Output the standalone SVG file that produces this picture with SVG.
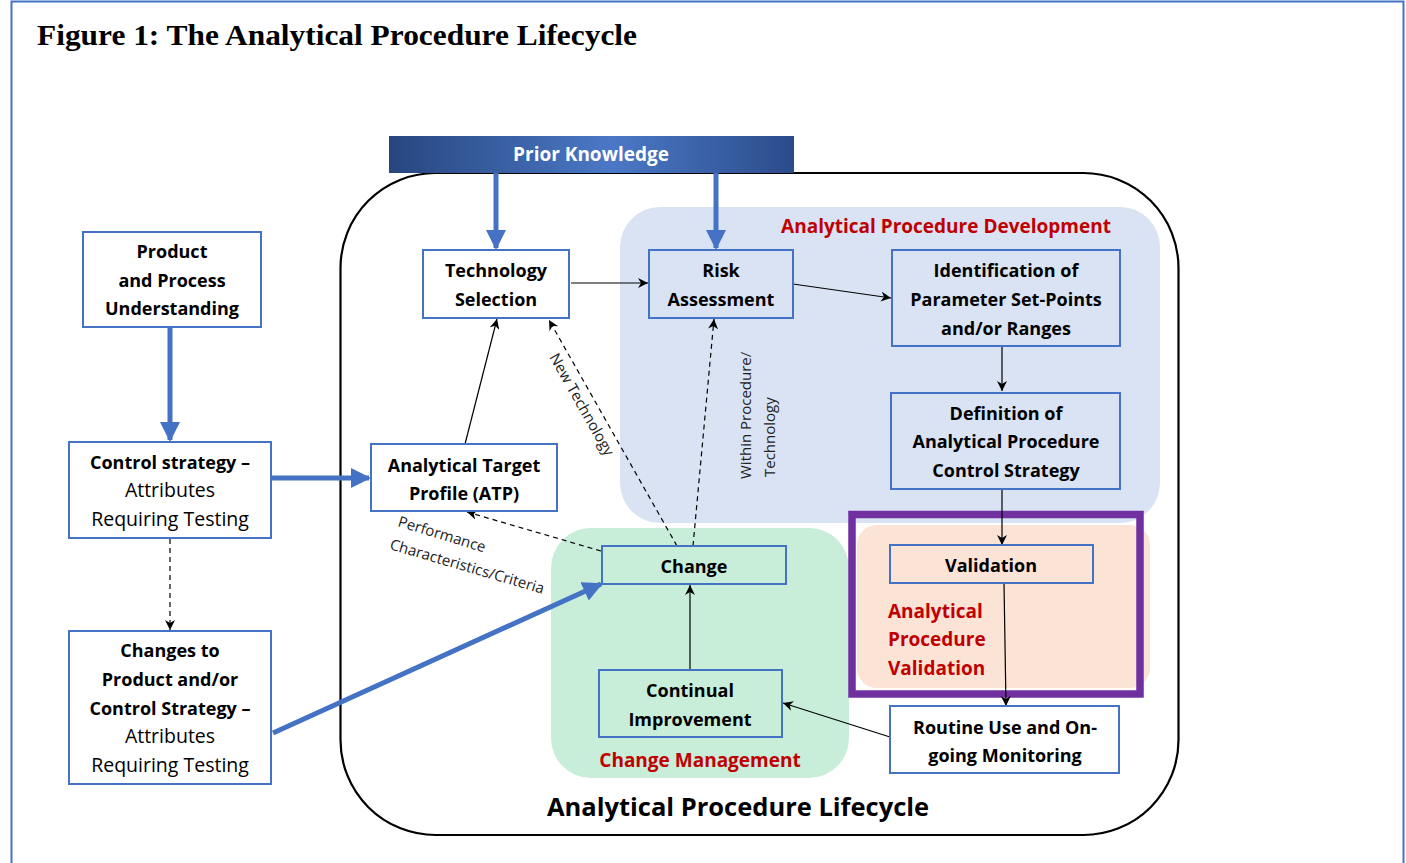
<svg xmlns="http://www.w3.org/2000/svg" width="1406" height="863" viewBox="0 0 1406 863">
  <style>
    .node { fill: #ffffff; stroke: #4472c4; stroke-width: 2; }
    .clear { fill: none; stroke: #4472c4; stroke-width: 2; }
    .t { font-family: "Open Sans", "Liberation Sans", sans-serif; font-size: 18px; fill: #000000; text-anchor: middle; }
    .b { font-weight: 700; }
    .n { font-weight: 400; font-size: 19.5px; }
    .red { font-family: "Open Sans", "Liberation Sans", sans-serif; font-size: 19px; font-weight: 700; fill: #c00000; }
    .lbl { font-family: "Open Sans", "Liberation Sans", sans-serif; font-size: 15px; fill: #222222; }
    .thin { stroke: #000000; stroke-width: 1.2; fill: none; marker-end: url(#head); }
    .dash { stroke: #000000; stroke-width: 1.2; fill: none; stroke-dasharray: 5 4; marker-end: url(#head); }
    .thick { stroke: #4472c4; stroke-width: 5; fill: none; marker-end: url(#bighead); }
  </style>
  <defs>
    <marker id="head" viewBox="0 0 10 10" refX="10" refY="5" markerWidth="10" markerHeight="10" markerUnits="userSpaceOnUse" orient="auto">
      <path d="M0,0 L10,5 L0,10 L3,5 z" fill="#000000"/>
    </marker>
    <marker id="bighead" viewBox="0 0 10 10" refX="9" refY="5" markerWidth="4" markerHeight="4" orient="auto">
      <path d="M0,0 L10,5 L0,10 z" fill="#4472c4"/>
    </marker>
    <linearGradient id="barGrad" x1="0" y1="0" x2="1" y2="0">
      <stop offset="0" stop-color="#27467f"/>
      <stop offset="0.55" stop-color="#4b78c6"/>
      <stop offset="1" stop-color="#2b4c8b"/>
    </linearGradient>
  </defs>

  <rect x="0" y="0" width="1406" height="863" fill="#ffffff"/>
  <!-- page frame -->
  <rect x="11.5" y="1.5" width="1392" height="900" fill="none" stroke="#4472c4" stroke-width="2"/>
  <text x="37" y="45" font-family="'Liberation Serif', serif" font-size="30" font-weight="700" fill="#000000" textLength="600" lengthAdjust="spacingAndGlyphs">Figure 1: The Analytical Procedure Lifecycle</text>

  <!-- lifecycle boundary -->
  <rect x="340.5" y="173" width="838" height="662" rx="95" ry="95" fill="none" stroke="#000000" stroke-width="2.2"/>

  <!-- stage regions -->
  <g id="region-development">
    <rect x="620" y="207" width="540" height="316" rx="40" ry="40" fill="#dae3f3"/>
    <text class="red" x="946" y="233" text-anchor="middle">Analytical Procedure Development</text>
  </g>
  <g id="region-change">
    <rect x="551" y="528" width="298" height="250" rx="40" ry="40" fill="#c8edd8"/>
    <text class="red" x="700" y="767" text-anchor="middle">Change Management</text>
  </g>
  <g id="region-validation">
    <rect x="857" y="525" width="293" height="163" rx="20" ry="20" fill="#fbe3d6"/>
    <text class="red" x="888" y="618">Analytical</text>
    <text class="red" x="888" y="646">Procedure</text>
    <text class="red" x="888" y="675">Validation</text>
    <rect x="852" y="514.5" width="288" height="179.5" fill="none" stroke="#7030a0" stroke-width="7.5"/>
  </g>

  <!-- prior knowledge bar -->
  <g id="prior-knowledge">
    <rect x="389" y="136" width="405" height="37" fill="url(#barGrad)"/>
    <text x="591" y="161" font-family="'Open Sans', 'Liberation Sans', sans-serif" font-size="19" font-weight="700" fill="#ffffff" text-anchor="middle">Prior Knowledge</text>
  </g>

  <!-- connectors -->
  <g id="connectors">
    <line class="thick" x1="496" y1="173" x2="496" y2="248"/>
    <line class="thick" x1="716" y1="173" x2="716" y2="248"/>
    <line class="thick" x1="170" y1="327" x2="170" y2="440"/>
    <line class="thick" x1="271" y1="478" x2="369" y2="478"/>
    <line class="thick" x1="273" y1="733" x2="601" y2="584"/>

    <line class="thin" x1="571" y1="283" x2="648" y2="283"/>
    <line class="thin" x1="793" y1="284" x2="891" y2="298"/>
    <line class="thin" x1="1002" y1="346" x2="1002" y2="391"/>
    <line class="thin" x1="1002" y1="489" x2="1002" y2="545"/>
    <line class="thin" x1="1004" y1="583" x2="1006" y2="706"/>
    <line class="thin" x1="890" y1="737" x2="783" y2="703"/>
    <line class="thin" x1="690" y1="670" x2="690" y2="585"/>
    <line class="thin" x1="465" y1="444" x2="497" y2="319"/>

    <line class="dash" x1="677" y1="546" x2="549" y2="320"/>
    <line class="dash" x1="693" y1="546" x2="714" y2="319"/>
    <line class="dash" x1="601" y1="551" x2="467" y2="512"/>
    <line class="dash" x1="170" y1="539" x2="170" y2="630"/>

    <text class="lbl" transform="translate(549,357) rotate(60.5)">New Technology</text>
    <text class="lbl" transform="translate(751,479) rotate(-90)">Within Procedure/</text>
    <text class="lbl" transform="translate(775,477) rotate(-90)">Technology</text>
    <text class="lbl" transform="translate(397,526) rotate(17)">Performance</text>
    <text class="lbl" transform="translate(389,549) rotate(16.3)">Characteristics/Criteria</text>
  </g>

  <!-- process nodes -->
  <g id="product-understanding">
    <rect class="node" x="83" y="232" width="178" height="95"/>
    <text class="t b" x="172" y="258">Product</text>
    <text class="t b" x="172" y="287">and Process</text>
    <text class="t b" x="172" y="315">Understanding</text>
  </g>
  <g id="control-strategy">
    <rect class="node" x="69" y="442" width="202" height="96"/>
    <text class="t b" x="170" y="469">Control strategy –</text>
    <text class="t n" x="170" y="497">Attributes</text>
    <text class="t n" x="170" y="526">Requiring Testing</text>
  </g>
  <g id="changes-to-product">
    <rect class="node" x="69" y="631" width="202" height="153"/>
    <text class="t b" x="170" y="657">Changes to</text>
    <text class="t b" x="170" y="686">Product and/or</text>
    <text class="t b" x="170" y="715">Control Strategy –</text>
    <text class="t n" x="170" y="743">Attributes</text>
    <text class="t n" x="170" y="772">Requiring Testing</text>
  </g>
  <g id="technology-selection">
    <rect class="node" x="423" y="250" width="146" height="68"/>
    <text class="t b" x="496" y="277">Technology</text>
    <text class="t b" x="496" y="306">Selection</text>
  </g>
  <g id="risk-assessment">
    <rect class="clear" x="649" y="250" width="144" height="68"/>
    <text class="t b" x="721" y="277">Risk</text>
    <text class="t b" x="721" y="306">Assessment</text>
  </g>
  <g id="parameter-identification">
    <rect class="clear" x="892" y="250" width="228" height="96"/>
    <text class="t b" x="1006" y="277">Identification of</text>
    <text class="t b" x="1006" y="306">Parameter Set-Points</text>
    <text class="t b" x="1006" y="335">and/or Ranges</text>
  </g>
  <g id="control-strategy-definition">
    <rect class="clear" x="891" y="393" width="229" height="96"/>
    <text class="t b" x="1006" y="420">Definition of</text>
    <text class="t b" x="1006" y="448">Analytical Procedure</text>
    <text class="t b" x="1006" y="477">Control Strategy</text>
  </g>
  <g id="atp">
    <rect class="node" x="371" y="444" width="186" height="67"/>
    <text class="t b" x="464" y="472">Analytical Target</text>
    <text class="t b" x="464" y="500">Profile (ATP)</text>
  </g>
  <g id="change">
    <rect class="clear" x="602" y="546" width="184" height="38"/>
    <text class="t b" x="694" y="573">Change</text>
  </g>
  <g id="validation">
    <rect class="clear" x="890" y="545" width="203" height="38"/>
    <text class="t b" x="991" y="572">Validation</text>
  </g>
  <g id="continual-improvement">
    <rect class="clear" x="599" y="670" width="183" height="67"/>
    <text class="t b" x="690" y="697">Continual</text>
    <text class="t b" x="690" y="726">Improvement</text>
  </g>
  <g id="routine-use">
    <rect class="node" x="890" y="706" width="229" height="67"/>
    <text class="t b" x="1005" y="734">Routine Use and On-</text>
    <text class="t b" x="1005" y="762">going Monitoring</text>
  </g>

  <text x="738" y="816" font-family="'Open Sans', 'Liberation Sans', sans-serif" font-size="25.5" font-weight="700" fill="#000000" text-anchor="middle">Analytical Procedure Lifecycle</text>
</svg>
